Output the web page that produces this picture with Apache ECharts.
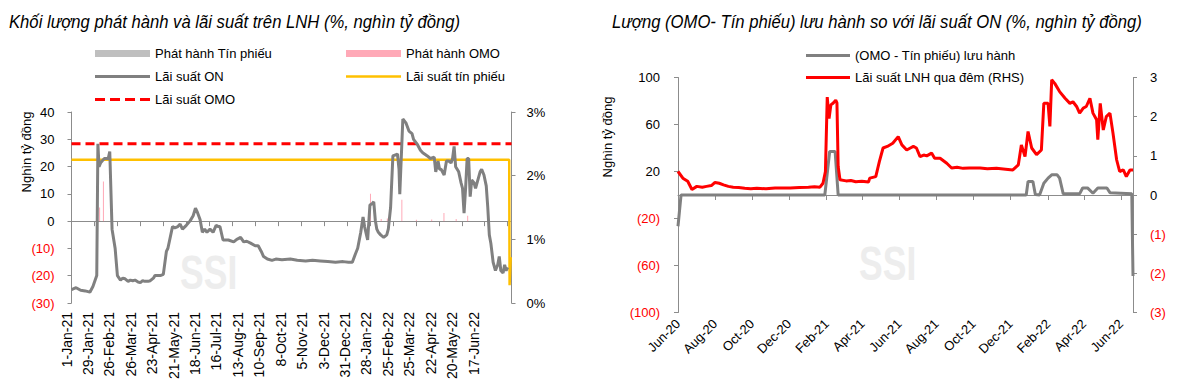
<!DOCTYPE html>
<html><head><meta charset="utf-8">
<script src="https://cdn.jsdelivr.net/npm/echarts@6/dist/echarts.min.js"></script>
<style>html,body{margin:0;padding:0;background:#fff}#c{width:1177px;height:390px}</style>
</head><body><div id="c"></div>
<script>
// ---------- Left chart data (x = days since 1-Jan-21) ----------
const leftTickLabels = ['1-Jan-21','29-Jan-21','26-Feb-21','26-Mar-21','23-Apr-21','21-May-21','18-Jun-21','16-Jul-21','13-Aug-21','10-Sep-21','8-Oct-21','5-Nov-21','3-Dec-21','31-Dec-21','28-Jan-22','25-Feb-22','25-Mar-22','22-Apr-22','20-May-22','17-Jun-22'];
const leftTickStep = 28;     // days between labels
const leftMinorTicks = [0,30,60,90,120,150,180,210,240,270,300,330,360,390,420,450,480,510,540,570];
const tinPhieuIssue = [];    // Phát hành Tín phiếu (nghìn tỷ đồng)
const omoIssue = [[36,5],[41,14.5],[390,10],[404,0.8],[412,1],[431,7.8],[450,0.5],[470,0.6],[486,3],[502,0.8],[517,2]];
const onRate = [[0,0.21],[6,0.24],[12,0.2],[18,0.19],[24,0.17],[28,0.26],[33,0.43],[34.5,2.5],[36,2.14],[38,2.2],[40,2.23],[43,2.27],[48,2.27],[50,2.38],[53,1.16],[57,0.86],[60,0.43],[64,0.36],[67,0.39],[70,0.38],[74,0.34],[77,0.36],[80,0.35],[83,0.36],[87,0.33],[90,0.32],[93,0.35],[96,0.34],[100,0.34],[103,0.35],[107,0.39],[109,0.43],[116,0.43],[120,0.45],[124,0.81],[126,0.86],[132,1.2],[135,1.18],[139,1.2],[142,1.24],[145,1.16],[150,1.22],[155,1.29],[159,1.37],[162,1.49],[164,1.44],[168,1.31],[171,1.11],[174,1.16],[177,1.11],[181,1.16],[185,1.11],[189,1.22],[192,1.2],[194,1.2],[198,0.99],[205,0.99],[212,0.96],[216,1.0],[221,1.03],[225,0.96],[229,0.97],[234,0.94],[240,0.9],[244,0.9],[248,0.81],[251,0.73],[256,0.69],[262,0.67],[267,0.69],[275,0.68],[286,0.69],[295,0.67],[306,0.66],[315,0.67],[325,0.66],[335,0.65],[345,0.64],[355,0.65],[362,0.64],[367,0.64],[371,0.77],[374,0.86],[378,1.11],[381,1.35],[383,1.2],[387,0.99],[390,1.54],[393,1.56],[395,1.59],[397,1.3],[399,1.16],[401,1.11],[404,1.07],[408,1.03],[412,1.07],[414,1.16],[417,1.5],[420,2.31],[426,2.34],[428,2.1],[429,1.71],[431,2.3],[433,2.89],[437,2.83],[441,2.7],[445,2.66],[447,2.57],[452,2.49],[456,2.4],[459,2.36],[465,2.31],[469,2.27],[474,2.29],[476,2.06],[479,2.23],[481,2.1],[483,2.1],[487,2.01],[490,2.23],[493,2.23],[496,2.2],[498,2.27],[500,2.46],[502,2.14],[506,2.06],[509,1.89],[511,1.8],[513,1.41],[515,1.8],[517,2.27],[519,2.27],[521,1.67],[523,1.93],[526,1.89],[528,1.8],[531,1.93],[534,2.06],[536,2.1],[539,2.01],[542,1.84],[544,1.5],[546,1.07],[548,0.94],[551,0.64],[554,0.51],[557,0.6],[559,0.73],[561,0.51],[564,0.47],[566,0.6],[568,0.51],[570,0.56]];
const tinPhieuRate = [[0,2.25],[572,2.25],[572.5,0.28],[574,0.72]];
const omoRate = [[0,2.5],[575,2.5]];

// ---------- Right chart data (x = days since 1-Jun-20) ----------
const rightTickLabels = ['Jun-20','Aug-20','Oct-20','Dec-20','Feb-21','Apr-21','Jun-21','Aug-21','Oct-21','Dec-21','Feb-22','Apr-22','Jun-22'];
const omoMinusTinPhieu = [[0,-26.6],[5,0],[242,0],[250,37],[259,37],[264,0],[574,0],[577,11.5],[585,11.5],[589,0.5],[596,0],[603,10],[610,14.4],[616,17.2],[625,17.2],[629,14.4],[635,1],[662,1],[667,6],[675,6],[684,1.5],[692,6],[707,6],[712,2],[748,1],[750,-69]];
const onInterbankRate = [[0,0.60],[8,0.43],[16,0.35],[23,0.14],[31,0.22],[40,0.20],[47,0.22],[55,0.24],[61,0.32],[68,0.30],[75,0.26],[83,0.22],[91,0.20],[100,0.19],[110,0.17],[120,0.16],[130,0.17],[145,0.16],[160,0.18],[175,0.18],[185,0.18],[200,0.19],[215,0.20],[225,0.21],[234,0.20],[239,0.30],[243,0.6],[246,2.5],[249,1.95],[252,2.3],[256,2.35],[260,2.42],[262,2.35],[264,0.73],[267,0.39],[277,0.36],[285,0.37],[293,0.34],[303,0.35],[314,0.33],[316,0.43],[326,0.47],[332,0.86],[338,1.2],[345,1.24],[354,1.32],[363,1.49],[369,1.28],[377,1.15],[383,1.2],[388,1.24],[393,1.2],[399,0.98],[405,1.02],[410,1.0],[418,1.07],[423,0.94],[432,0.94],[443,0.81],[451,0.69],[460,0.71],[470,0.68],[480,0.69],[498,0.69],[510,0.67],[525,0.68],[540,0.66],[552,0.64],[561,0.77],[566,1.28],[572,0.98],[577,1.62],[583,1.2],[591,1.03],[599,1.15],[603,2.34],[610,2.34],[613,1.75],[616,2.94],[621,2.85],[629,2.64],[638,2.47],[646,2.34],[651,2.38],[657,2.26],[662,2.09],[668,2.22],[673,2.26],[679,2.47],[684,2.09],[690,1.92],[692,1.41],[696,2.34],[701,1.66],[706,2.0],[712,2.09],[717,1.58],[723,0.9],[728,0.6],[734,0.64],[739,0.47],[745,0.64],[750,0.64]];

// ---------- build ----------
const FONT = "'Liberation Sans',Arial,sans-serif";
const AX = '#8c8c8c';
const DAY = 86400000;
const leftTickDays = leftTickLabels.map((l, i) => i * leftTickStep);
const rStart = Date.UTC(2020, 5, 1);
const rightTickDays = rightTickLabels.map((l, i) => Math.round((Date.UTC(2020, 5 + 2 * i, 1) - rStart) / DAY));
const paren = v => v < 0 ? '(' + (-v) + ')' : String(v);
const negColor = v => (Number(v) < 0 ? '#ff0000' : '#000');
const DASH_ICON = 'path://M0,0h10v3h-10z M15,0h10v3h-10z M30,0h10v3h-10z M45,0h10v3h-10z';

const chart = echarts.init(document.getElementById('c'), null, {renderer: 'svg'});
const legendItem = (name, icon, left, top, w, h) => ({
  left, top, data: [{name, icon}], itemWidth: w, itemHeight: h, padding: 0,
  textStyle: {fontFamily: FONT, fontSize: 13, color: '#000'}, selectedMode: false
});
const titleText = (text, x) => ({
  type: 'text', x, y: 13, scaleX: 0.926,
  style: {text, fill: '#000', font: 'italic 18px ' + FONT, verticalAlign: 'top'}
});

chart.setOption({
  animation: false,
  textStyle: {fontFamily: FONT},
  legend: [
    legendItem('Phát hành Tín phiếu', 'rect', 95, 47, 55, 7),
    legendItem('Phát hành OMO', 'rect', 346, 47, 55, 7),
    legendItem('Lãi suất ON', 'rect', 95, 70, 55, 3),
    legendItem('Lãi suất tín phiếu', 'rect', 346, 70, 55, 2.5),
    legendItem('Lãi suất OMO', DASH_ICON, 95, 93, 55, 3),
    legendItem('(OMO - Tín phiếu) lưu hành', 'rect', 806, 49, 44, 3),
    legendItem('Lãi suất LNH qua đêm (RHS)', 'rect', 806, 71, 44, 3)
  ],
  grid: [
    {left: 71.5, top: 112, width: 440, height: 191},
    {left: 678, top: 77.5, width: 455, height: 235},
    {left: 66.5, top: 112, width: 440, height: 191}
  ],
  xAxis: [
    {gridIndex: 0, type: 'value', min: 0, max: 575,
     axisLine: {onZero: true, lineStyle: {color: AX, width: 1}},
     axisTick: {show: true, length: 5, lineStyle: {color: AX}, customValues: leftMinorTicks},
     axisLabel: {show: false}, splitLine: {show: false}},
    {gridIndex: 2, type: 'value', min: 0, max: 575, position: 'bottom',
     axisLine: {show: false, onZero: false}, axisTick: {show: false},
     axisLabel: {show: true, rotate: 90, margin: 9, fontSize: 14, color: '#000', fontFamily: FONT,
       customValues: leftTickDays, hideOverlap: false,
       formatter: v => leftTickLabels[leftTickDays.indexOf(Math.round(v))] || ''},
     splitLine: {show: false}},
    {gridIndex: 1, type: 'value', min: 0, max: 750,
     axisLine: {onZero: true, lineStyle: {color: AX, width: 1}},
     axisTick: {show: true, length: 5, lineStyle: {color: AX}, customValues: rightTickDays},
     axisLabel: {show: false}, splitLine: {show: false}},
    {gridIndex: 1, type: 'value', min: 0, max: 750, position: 'bottom',
     axisLine: {show: false, onZero: false}, axisTick: {show: false},
     axisLabel: {show: true, rotate: 45, margin: 9, fontSize: 13, color: '#000', fontFamily: FONT,
       customValues: rightTickDays, hideOverlap: false,
       formatter: v => rightTickLabels[rightTickDays.indexOf(Math.round(v))] || ''},
     splitLine: {show: false}}
  ],
  yAxis: [
    {gridIndex: 0, type: 'value', min: -30, max: 40, interval: 10, position: 'left',
     axisLine: {show: true, onZero: false, lineStyle: {color: AX}},
     axisTick: {show: true, length: 4, lineStyle: {color: AX}},
     axisLabel: {fontSize: 13, fontFamily: FONT, margin: 17, formatter: paren, color: negColor},
     splitLine: {show: false}},
    {gridIndex: 0, type: 'value', min: 0, max: 3, interval: 1, position: 'right',
     axisLine: {show: true, onZero: false, lineStyle: {color: AX}},
     axisTick: {show: true, length: 4, lineStyle: {color: AX}},
     axisLabel: {fontSize: 13, fontFamily: FONT, margin: 15, formatter: v => v + '%', color: '#000'},
     splitLine: {show: false}},
    {gridIndex: 1, type: 'value', min: -100, max: 100, interval: 40, position: 'left',
     axisLine: {show: true, onZero: false, lineStyle: {color: AX}},
     axisTick: {show: true, length: 4, lineStyle: {color: AX}},
     axisLabel: {fontSize: 13, fontFamily: FONT, margin: 18, formatter: paren, color: negColor},
     splitLine: {show: false}},
    {gridIndex: 1, type: 'value', min: -3, max: 3, interval: 1, position: 'right',
     axisLine: {show: true, onZero: false, lineStyle: {color: AX}},
     axisTick: {show: true, length: 4, lineStyle: {color: AX}},
     axisLabel: {fontSize: 13, fontFamily: FONT, margin: 17, formatter: paren, color: negColor},
     splitLine: {show: false}},
    {gridIndex: 2, type: 'value', min: -30, max: 40, show: false,
     axisLine: {onZero: false}}
  ],
  graphic: [
    titleText('Khối lượng phát hành và lãi suất trên LNH (%, nghìn tỷ đồng)', 9),
    titleText('Lượng (OMO- Tín phiếu) lưu hành so với lãi suất ON (%, nghìn tỷ đồng)', 612),
    {type: 'text', x: 180, y: 249, scaleX: 0.74, z: -10, style: {text: 'SSI', fill: '#ededed', font: 'bold 48px ' + FONT}},
    {type: 'text', x: 859, y: 240, scaleX: 0.74, z: -10, style: {text: 'SSI', fill: '#ededed', font: 'bold 48px ' + FONT}},
    {type: 'text', x: 20, y: 152, rotation: Math.PI / 2, style: {text: 'Nghìn tỷ đồng', fill: '#000', font: '13px ' + FONT, align: 'center', verticalAlign: 'top'}},
    {type: 'text', x: 601, y: 137, rotation: Math.PI / 2, style: {text: 'Nghìn tỷ đồng', fill: '#000', font: '13px ' + FONT, align: 'center', verticalAlign: 'top'}}
  ],
  series: [
    {name: 'Phát hành Tín phiếu', type: 'bar', xAxisIndex: 0, yAxisIndex: 0, barWidth: 1, data: tinPhieuIssue, itemStyle: {color: '#bfbfbf'}},
    {name: 'Phát hành OMO', type: 'bar', xAxisIndex: 0, yAxisIndex: 0, barWidth: 1, data: omoIssue, itemStyle: {color: '#ff6f87', opacity: 0.6}},
    {name: 'Lãi suất tín phiếu', type: 'line', xAxisIndex: 0, yAxisIndex: 1, data: tinPhieuRate, symbol: 'none', lineStyle: {color: '#ffc000', width: 2.5}, itemStyle: {color: '#ffc000'}},
    {name: 'Lãi suất OMO', type: 'line', xAxisIndex: 0, yAxisIndex: 1, data: omoRate, symbol: 'none', lineStyle: {color: '#ff0000', width: 3, type: [9, 5]}, itemStyle: {color: '#ff0000'}},
    {name: 'Lãi suất ON', type: 'line', xAxisIndex: 0, yAxisIndex: 1, data: onRate, symbol: 'none', lineStyle: {color: '#808080', width: 3}, itemStyle: {color: '#808080'}},
    {name: '(OMO - Tín phiếu) lưu hành', type: 'line', xAxisIndex: 2, yAxisIndex: 2, data: omoMinusTinPhieu, symbol: 'none', lineStyle: {color: '#808080', width: 3}, itemStyle: {color: '#808080'}},
    {name: 'Lãi suất LNH qua đêm (RHS)', type: 'line', xAxisIndex: 2, yAxisIndex: 3, data: onInterbankRate, symbol: 'none', lineStyle: {color: '#ff0000', width: 3}, itemStyle: {color: '#ff0000'}}
  ]
});
</script></body></html>
